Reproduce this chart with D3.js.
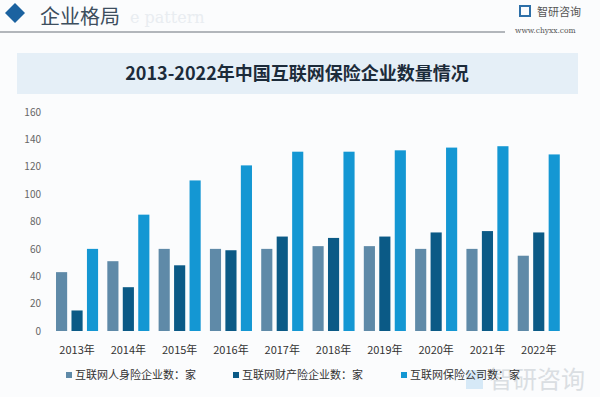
<!DOCTYPE html>
<html><head><meta charset="utf-8">
<script src="https://cdn.jsdelivr.net/npm/d3@7"></script>
<style>body{margin:0;background:#fbfcfd}svg{display:block}</style>
</head><body>
<script>
const years = ["2013年","2014年","2015年","2016年","2017年","2018年","2019年","2020年","2021年","2022年"];
const seriesNames = ["互联网人身险企业数：家","互联网财产险企业数：家","互联网保险公司数：家"];
const lifeIns = [43,51,60,60,60,62,62,60,60,55];
const propertyIns = [15,32,48,59,69,68,69,72,73,72];
const totalIns = [60,85,110,121,131,131,132,134,135,129];
const yTicks = [0,20,40,60,80,100,120,140,160];
const colors = ["#5f8aa8","#0b5a86","#1497d3"];
const seriesData = [lifeIns, propertyIns, totalIns];

const W=600,H=397;
const svg=d3.select("body").append("svg").attr("width",W).attr("height",H);
const font="'Noto Sans CJK SC','Noto Sans',sans-serif";
svg.append("rect").attr("width",W).attr("height",H).attr("fill","#fbfcfd");

// header
svg.append("path").attr("d","M15,3 L25,13 L15,23 L5,13 Z").attr("fill","#1b62a0");
svg.append("text").attr("x",130).attr("y",23).attr("font-family","'DejaVu Serif',serif").attr("font-size",16).attr("fill","#e9edf1").text("e pattern");
svg.append("text").attr("x",40).attr("y",24).attr("font-family",font).attr("font-size",20).attr("fill","#3d4e5e").text("企业格局");
svg.append("line").attr("x1",0).attr("x2",505).attr("y1",32).attr("y2",32).attr("stroke","#9a9fa5").attr("stroke-width",1.5);
svg.append("rect").attr("x",520).attr("y",6).attr("width",10).attr("height",10).attr("fill","none").attr("stroke","#2d6fa8").attr("stroke-width",2);
svg.append("text").attr("x",537).attr("y",16).attr("font-family",font).attr("font-size",11).attr("fill","#555").text("智研咨询");
svg.append("text").attr("x",515).attr("y",33).attr("font-family","'DejaVu Serif',serif").attr("font-size",7.5).attr("fill","#555").text("www.chyxx.com");

// title band
svg.append("rect").attr("x",17).attr("y",53).attr("width",561).attr("height",41).attr("fill","#e5eff7");
svg.append("text").attr("x",297).attr("y",80).attr("text-anchor","middle").attr("font-family",font).attr("font-weight","bold").attr("font-size",18).attr("fill","#1c2b3a").text("2013-2022年中国互联网保险企业数量情况");

// scales
const x0=d3.scaleBand().domain(years).range([51.4,564.4]).paddingInner(0.18).paddingOuter(0.09);
const x1=d3.scaleBand().domain([0,1,2]).range([0,x0.bandwidth()]).paddingInner(0.28);
const y=d3.scaleLinear().domain([0,160]).range([331,112]);

// y axis
const ya=svg.append("g").attr("transform","translate(44,0)").call(d3.axisLeft(y).tickValues(yTicks).tickSize(0).tickPadding(3));
ya.select(".domain").remove();
ya.selectAll("text").attr("font-family",font).attr("font-size",10).attr("fill","#666");

// bars
const g=svg.append("g");
seriesData.forEach((arr,si)=>{
  g.selectAll(".s"+si).data(arr).join("rect")
   .attr("x",(d,i)=>x0(years[i])+x1(si)).attr("width",x1.bandwidth())
   .attr("y",d=>y(d)).attr("height",d=>y(0)-y(d)).attr("fill",colors[si]);
});

// x axis
const xa=svg.append("g").attr("transform","translate(0,343)").call(d3.axisBottom(x0).tickSize(0).tickPadding(0));
xa.select(".domain").remove();
xa.selectAll("text").attr("font-family",font).attr("font-size",11).attr("fill","#333").attr("dy","1em");

// watermark bottom right
svg.append("rect").attr("x",466).attr("y",370).attr("width",17).attr("height",19).attr("fill","#a9d3ef").attr("opacity",0.45);
svg.append("text").attr("x",489).attr("y",388).attr("font-family",font).attr("font-size",24).attr("fill","#cfd4d9").attr("opacity",0.75).text("智研咨询");

// legend
const lx=[66,233,401];
seriesNames.forEach((n,i)=>{
  svg.append("rect").attr("x",lx[i]).attr("y",372).attr("width",6).attr("height",6).attr("fill",colors[i]);
  svg.append("text").attr("x",lx[i]+9).attr("y",379).attr("font-family",font).attr("font-size",11).attr("fill","#333").text(n);
});
</script>
</body></html>
